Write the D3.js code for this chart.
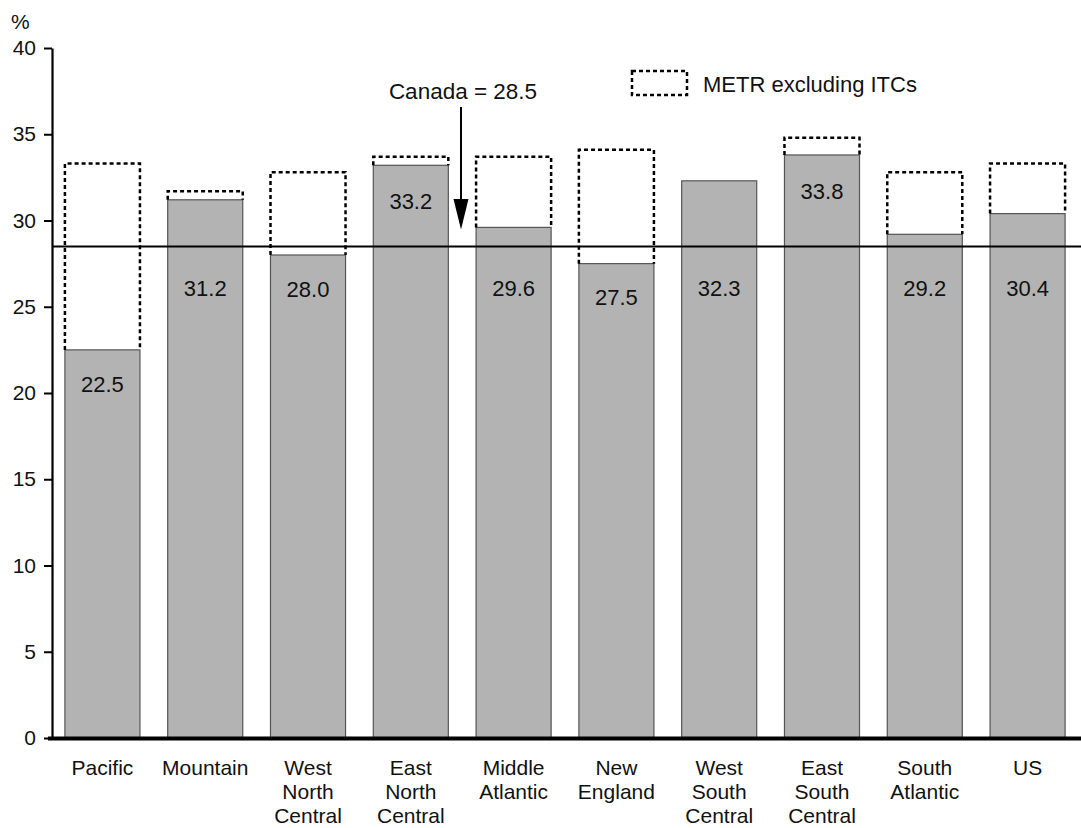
<!DOCTYPE html>
<html>
<head>
<meta charset="utf-8">
<script src="https://cdn.jsdelivr.net/npm/d3@7"></script>
<style>
  html, body { margin: 0; padding: 0; background: #fff; }
  svg { display: block; font-family: "Liberation Sans", Arial, Helvetica, sans-serif; }
</style>
</head>
<body>
<svg id="chart" width="1081" height="828"></svg>
<script>
// Marginal effective tax rate by US region
const regions = [
  ["Pacific"], ["Mountain"], ["West", "North", "Central"], ["East", "North", "Central"],
  ["Middle", "Atlantic"], ["New", "England"], ["West", "South", "Central"],
  ["East", "South", "Central"], ["South", "Atlantic"], ["US"]
];
const metr = [22.5, 31.2, 28.0, 33.2, 29.6, 27.5, 32.3, 33.8, 29.2, 30.4];
// METR excluding investment tax credits (null where there is no difference)
const metrExclITC = [33.3, 31.7, 32.8, 33.7, 33.7, 34.1, null, 34.8, 32.8, 33.3];
const canada = 28.5;
const yTicks = [0, 5, 10, 15, 20, 25, 30, 35, 40];

const svg = d3.select("#chart");
const plotLeft = 52, plotRight = 1081, plotTop = 48, plotBottom = 738;

const x = d3.scaleBand()
  .domain(d3.range(regions.length))
  .range([50, 1080])
  .paddingInner(0.27)
  .paddingOuter(0.145);

const y = d3.scaleLinear().domain([0, 40]).range([plotBottom, plotTop]);

// Bars
svg.append("g").selectAll("rect")
  .data(metr)
  .join("rect")
  .attr("x", (d, i) => x(i))
  .attr("y", d => y(d))
  .attr("width", x.bandwidth())
  .attr("height", d => y(0) - y(d))
  .attr("fill", "#b3b3b3")
  .attr("stroke", "#555")
  .attr("stroke-width", 1.2);

// Dashed outlines showing the rate without ITCs
svg.append("g").selectAll("path")
  .data(metrExclITC.map((v, i) => ({ v, i })).filter(d => d.v != null))
  .join("path")
  .attr("d", d => {
    const x0 = x(d.i), x1 = x(d.i) + x.bandwidth();
    const yb = y(metr[d.i]), yt = y(d.v);
    return `M${x0},${yb}V${yt}H${x1}V${yb}`;
  })
  .attr("fill", "none")
  .attr("stroke", "#000")
  .attr("stroke-width", 2.5)
  .attr("stroke-dasharray", "4,3");

// Canada reference line
svg.append("line")
  .attr("x1", plotLeft).attr("x2", plotRight)
  .attr("y1", y(canada)).attr("y2", y(canada))
  .attr("stroke", "#000").attr("stroke-width", 2);

// Value labels: inside the bar top when clear of the Canada line, otherwise just below it
svg.append("g").selectAll("text")
  .data(metr)
  .join("text")
  .attr("x", (d, i) => x(i) + x.bandwidth() / 2)
  .attr("y", d => (d - canada > 4) ? y(d) + 36 : Math.max(y(canada) + 42, y(d) + 34))
  .attr("dy", "0.35em")
  .attr("text-anchor", "middle")
  .attr("font-size", 22)
  .attr("fill", "#111")
  .text(d => d.toFixed(1));

// Y axis
const yAxis = svg.append("g")
  .attr("transform", `translate(${plotLeft},0)`)
  .call(d3.axisLeft(y).tickValues(yTicks).tickSize(8).tickPadding(8).tickSizeOuter(0));
yAxis.select(".domain").attr("stroke-width", 2.2);
yAxis.selectAll(".tick line").attr("stroke-width", 2);
yAxis.selectAll("text").attr("font-size", 21).attr("fill", "#111")
  .attr("font-family", "Liberation Sans, Arial, sans-serif");

svg.append("text")
  .attr("x", 11).attr("y", 29)
  .attr("font-size", 21).attr("fill", "#111")
  .text("%");

// X axis baseline
svg.append("line")
  .attr("x1", 48).attr("x2", plotRight)
  .attr("y1", y(0) + 0.5).attr("y2", y(0) + 0.5)
  .attr("stroke", "#000").attr("stroke-width", 4);

// Category labels
const cat = svg.append("g").selectAll("text")
  .data(regions)
  .join("text")
  .attr("text-anchor", "middle")
  .attr("font-size", 21)
  .attr("fill", "#111")
  .attr("transform", (d, i) => `translate(${x(i) + x.bandwidth() / 2},${plotBottom + 30})`);
cat.selectAll("tspan")
  .data(d => d)
  .join("tspan")
  .attr("x", 0)
  .attr("y", (d, j) => j * 24)
  .attr("dy", "0.35em")
  .text(d => d);

// Canada annotation with arrow
const ax = 461;
svg.append("text")
  .attr("x", ax + 2).attr("y", 99)
  .attr("text-anchor", "middle")
  .attr("font-size", 22.5).attr("fill", "#111")
  .text("Canada = " + canada);
svg.append("line")
  .attr("x1", ax).attr("x2", ax)
  .attr("y1", 107).attr("y2", 205)
  .attr("stroke", "#000").attr("stroke-width", 2);
svg.append("path")
  .attr("d", `M${ax - 7.5},${199}L${ax + 7.5},${199}L${ax},${y(canada) - 17}Z`)
  .attr("fill", "#000");

// Legend
svg.append("rect")
  .attr("x", 632).attr("y", 71)
  .attr("width", 55).attr("height", 24)
  .attr("fill", "none")
  .attr("stroke", "#000").attr("stroke-width", 2.5)
  .attr("stroke-dasharray", "4,3");
svg.append("text")
  .attr("x", 703).attr("y", 84)
  .attr("dy", "0.35em")
  .attr("font-size", 22).attr("fill", "#111")
  .text("METR excluding ITCs");
</script>
</body>
</html>
